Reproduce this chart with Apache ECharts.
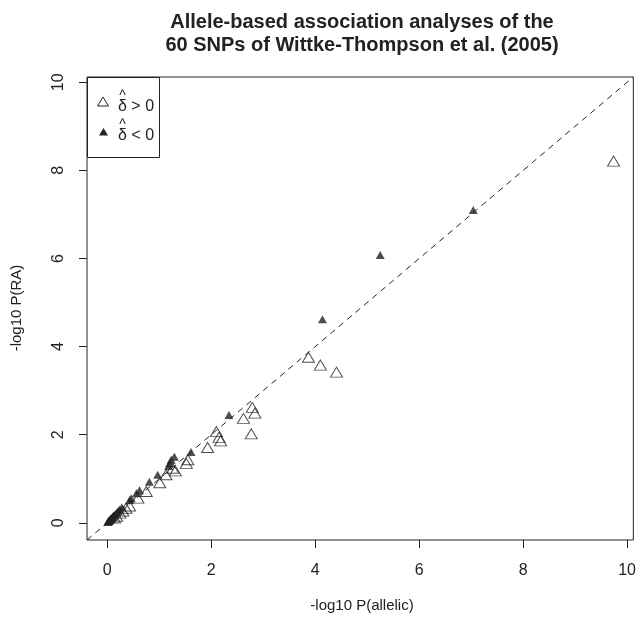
<!DOCTYPE html>
<html>
<head>
<meta charset="utf-8">
<script src="https://cdn.jsdelivr.net/npm/echarts@6/dist/echarts.min.js"></script>
<style>
html,body{margin:0;padding:0;background:#fff;}
#chart{width:639px;height:619px;}
</style>
</head>
<body>
<div id="chart"></div>
<script>
// -log10 P(allelic), -log10 P(RA) for SNPs with delta-hat > 0 (open triangles)
const posX = [9.74, 3.87, 4.10, 4.41, 2.79, 2.84, 2.62, 2.77, 2.10, 2.15, 2.18, 1.93, 1.55, 1.52, 1.31, 1.26, 1.13, 1.01, 0.75, 0.59, 0.43, 0.36, 0.30, 0.24, 0.14, 0.18];
const posY = [8.21, 3.76, 3.58, 3.42, 2.62, 2.49, 2.37, 2.02, 2.07, 1.94, 1.86, 1.71, 1.43, 1.35, 1.18, 1.24, 1.09, 0.91, 0.71, 0.56, 0.38, 0.33, 0.27, 0.22, 0.11, 0.15];
// SNPs with delta-hat < 0 (filled triangles)
const negX = [7.04, 5.25, 4.14, 2.34, 1.61, 1.29, 1.23, 1.20, 1.18, 0.97, 0.81, 0.62, 0.56, 0.46, 0.43, 0.01, 0.02, 0.03, 0.04, 0.05, 0.06, 0.07, 0.08, 0.09, 0.10, 0.11, 0.12, 0.13, 0.15, 0.17, 0.19, 0.21, 0.24, 0.28];
const negY = [7.10, 6.08, 4.62, 2.45, 1.61, 1.50, 1.43, 1.35, 1.29, 1.09, 0.93, 0.74, 0.67, 0.56, 0.52, 0.02, 0.03, 0.05, 0.04, 0.07, 0.08, 0.10, 0.09, 0.12, 0.13, 0.14, 0.16, 0.17, 0.19, 0.21, 0.24, 0.27, 0.30, 0.35];
const tickValues = [0, 2, 4, 6, 8, 10];
const axisMin = -0.39, axisMax = 10.12;
const titleLines = ['Allele-based association analyses of the', '60 SNPs of Wittke-Thompson et al. (2005)'];
const xTitle = '-log10 P(allelic)';
const yTitle = '-log10 P(RA)';

const FONT = '"Liberation Sans", Arial, Helvetica, sans-serif';
const INK = '#222';

const chart = echarts.init(document.getElementById('chart'), null, {renderer: 'canvas'});

function axisCommon() {
  return {
    type: 'value', min: axisMin, max: axisMax,
    splitLine: {show: false},
    axisLine: {show: false, onZero: false},
    axisTick: {show: true, inside: false, length: 8, customValues: tickValues, lineStyle: {color: INK, width: 1}},
    axisLabel: {show: true, customValues: tickValues, color: INK, fontFamily: FONT, fontSize: 16, margin: 23},
  };
}

const xAxis = axisCommon();
const yAxis = axisCommon();
yAxis.axisLabel.rotate = 90;
yAxis.axisLabel.margin = 20;

chart.setOption({
  animation: false,
  backgroundColor: '#fff',
  grid: {left: 87, right: 2, top: 77, bottom: 79, show: true, borderColor: INK, borderWidth: 1, backgroundColor: 'transparent'},
  xAxis: xAxis,
  yAxis: yAxis,
  series: [
    {
      type: 'line', data: [[axisMin, axisMin], [axisMax, axisMax]], symbol: 'none', silent: true,
      lineStyle: {color: INK, width: 1, type: [6, 5]}, clip: true, z: 1
    },
    {
      type: 'scatter', data: posX.map((x, i) => [x, posY[i]]), symbol: 'triangle', symbolSize: [12, 10],
      itemStyle: {color: 'rgba(0,0,0,0)', borderColor: INK, borderWidth: 1}, z: 3
    },
    {
      type: 'scatter', data: negX.map((x, i) => [x, negY[i]]), symbol: 'triangle', symbolSize: [9, 8],
      itemStyle: {color: INK, borderWidth: 0}, z: 2
    }
  ],
  graphic: [
    {type: 'text', x: 362, y: 22, style: {text: titleLines[0], font: 'bold 20px ' + FONT, fill: INK, align: 'center', verticalAlign: 'middle'}},
    {type: 'text', x: 362, y: 45, style: {text: titleLines[1], font: 'bold 20px ' + FONT, fill: INK, align: 'center', verticalAlign: 'middle'}},
    {type: 'text', x: 362, y: 606, style: {text: xTitle, font: '15px ' + FONT, fill: INK, align: 'center', verticalAlign: 'middle'}},
    {type: 'text', x: 17, y: 308, rotation: Math.PI / 2, style: {text: yTitle, font: '15px ' + FONT, fill: INK, align: 'center', verticalAlign: 'middle'}},
    // legend box
    {type: 'rect', shape: {x: 87.5, y: 77.5, width: 72, height: 80}, style: {fill: '#fff', stroke: INK, lineWidth: 1}, z: 10},
    {type: 'polygon', shape: {points: [[103, 97], [97.5, 106], [108.5, 106]]}, style: {fill: 'none', stroke: INK, lineWidth: 1}, z: 11},
    {type: 'text', x: 118, y: 107, style: {text: 'δ > 0', font: '16px ' + FONT, fill: INK, align: 'left', verticalAlign: 'middle'}, z: 11},
    {type: 'text', x: 122.5, y: 96, style: {text: '^', font: '14px ' + FONT, fill: INK, align: 'center', verticalAlign: 'middle'}, z: 11},
    {type: 'polygon', shape: {points: [[103.5, 128], [99, 135.5], [108, 135.5]]}, style: {fill: INK, stroke: 'none'}, z: 11},
    {type: 'text', x: 118, y: 136, style: {text: 'δ < 0', font: '16px ' + FONT, fill: INK, align: 'left', verticalAlign: 'middle'}, z: 11},
    {type: 'text', x: 122.5, y: 125, style: {text: '^', font: '14px ' + FONT, fill: INK, align: 'center', verticalAlign: 'middle'}, z: 11}
  ]
});
</script>
</body>
</html>
